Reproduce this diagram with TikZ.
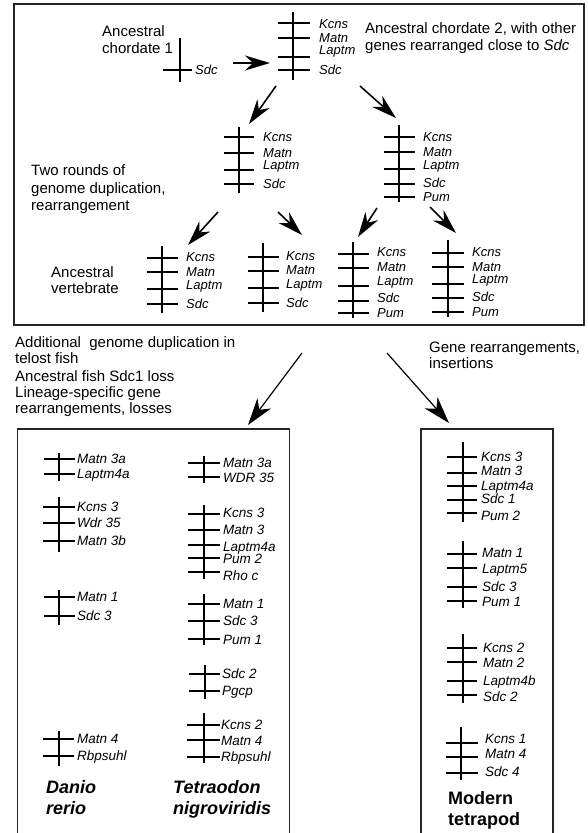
\documentclass[tikz,border=0pt]{standalone}
\usepackage{fontspec}
\setmainfont{Liberation Sans}
\usetikzlibrary{arrows.meta}
\tikzset{
 chr/.style={line width=2pt, line cap=butt},
 gene/.style={anchor=west, inner sep=0pt, font=\fontsize{13}{13}\selectfont\itshape, text height=9.3pt, text depth=0pt},
 geneB/.style={anchor=west, inner sep=0pt, font=\fontsize{13.5}{13.5}\selectfont\itshape, text height=9.7pt, text depth=0pt},
 lbl/.style={anchor=west, inner sep=0pt, font=\fontsize{15}{15}\selectfont, text height=10.7pt, text depth=0pt},
 sp/.style={anchor=west, inner sep=0pt, font=\fontsize{18}{18}\selectfont\bfseries, text height=12.9pt, text depth=0pt},
 spi/.style={sp, font=\fontsize{18}{18}\selectfont\bfseries\itshape},
 panel/.style={line width=1.8pt, draw=black!85},
 arr/.style={line width=1.6pt, -{Stealth[length=25pt,width=15pt,inset=8pt]}},
 bigarr/.style={line width=1.2pt, -{Stealth[length=27pt,width=17pt,inset=8pt]}},
}
% #1 name, #2 label style, #3 x of axis, #4 top, #5 bottom, #6 tick left, #7 tick right, #8 label x, #9 list tick-y/label-y/text
\newcommand\chrom[9]{%
 \draw[chr] (#3,#4) -- (#3,#5);
 \foreach \ty/\ly/\txt [count=\i] in {#9} {
   \draw[chr] (#6,\ty) -- (#7,\ty);
   \node[#2] (#1-\i) at (#8,\ly) {\txt};
 }%
}
\begin{document}
\begin{tikzpicture}[x=1pt,y=-1pt]
\useasboundingbox (0,0) rectangle (587,833);

% panels
\draw[panel] (14,4) rectangle (584,325);
\draw[panel] (17.5,836) -- (17.5,429) -- (289.5,429) -- (289.5,836);
\draw[panel] (421,836) -- (421,429) -- (553,429) -- (553,836);

% top panel texts
\node[lbl] (t1a) at (102,31) {Ancestral};
\node[lbl] (t1b) at (102,48) {chordate 1};
\node[lbl] (t2a) at (365,28) {Ancestral chordate 2, with other};
\node[lbl] (t2b) at (365,45) {genes rearranged close to \textit{Sdc}};
\node[lbl] (t3a) at (31,170) {Two rounds of};
\node[lbl] (t3b) at (31,188) {genome duplication,};
\node[lbl] (t3c) at (31,205) {rearrangement};
\node[lbl] (t4a) at (51,272) {Ancestral};
\node[lbl] (t4b) at (51,288) {vertebrate};

% chromosomes, top panel
\chrom{c1}{gene}{180}{38}{82}{163}{192}{195}{70/70/Sdc}
\chrom{c2}{gene}{293}{12}{80}{278}{310}{319}{23/24/Kcns, 38/38/Matn, 57/50/Laptm, 70/70/Sdc}
\chrom{ml}{gene}{239}{127}{193}{224}{254}{263}{137/137/Kcns, 153/153/Matn, 170/165/Laptm, 184/184/Sdc}
\chrom{mr}{gene}{399}{125}{202}{384}{415}{423}{137/137/Kcns, 152/152/Matn, 169/165/Laptm, 184/183/Sdc, 197/197/Pum}
\chrom{b1}{gene}{162}{246}{313}{147}{178}{186}{258/257/Kcns, 272/272/Matn, 289/285/Laptm, 304/304/Sdc}
\chrom{b2}{gene}{263}{243}{312}{248}{279}{286}{257/256/Kcns, 271/270/Matn, 288/284/Laptm, 303/303/Sdc}
\chrom{b3}{gene}{353}{242}{318}{338}{369}{377}{254/252/Kcns, 268/267/Matn, 286/281/Laptm, 301/298/Sdc, 313/313/Pum}
\chrom{b4}{gene}{448}{240}{317}{432}{464}{472}{253/252/Kcns, 267/267/Matn, 284/279/Laptm, 298/297/Sdc, 312/312/Pum}

% arrows, top panel
\coordinate (h0) at (233,63);  \coordinate (h1) at (270,63);
\coordinate (l0) at (276,86);  \coordinate (l1) at (249,124);
\coordinate (r0) at (360,86);  \coordinate (r1) at (396,118);
\coordinate (a10) at (218,212); \coordinate (a11) at (188,245);
\coordinate (a20) at (278,212); \coordinate (a21) at (302,235);
\coordinate (a30) at (377,208); \coordinate (a31) at (358,237);
\coordinate (a40) at (430,207); \coordinate (a41) at (456,233);
\draw[arr] (h0) -- (h1);
\draw[arr] (l0) -- (l1);
\draw[arr] (r0) -- (r1);
\draw[arr] (a10) -- (a11);
\draw[arr] (a20) -- (a21);
\draw[arr] (a30) -- (a31);
\draw[arr] (a40) -- (a41);

% middle texts
\node[lbl] (m1) at (15,342) {Additional\ \ genome duplication in};
\node[lbl] (m2) at (15,358) {telost fish};
\node[lbl] (m3) at (15,376) {Ancestral fish Sdc1 loss};
\node[lbl] (m4) at (15,392) {Lineage-specific gene};
\node[lbl] (m5) at (15,408) {rearrangements, losses};
\node[lbl] (n1) at (429,347) {Gene rearrangements,};
\node[lbl] (n2) at (429,363) {insertions};

\coordinate (bl0) at (302,353); \coordinate (bl1) at (248,425);
\coordinate (br0) at (387,353); \coordinate (br1) at (449,423);
\draw[bigarr] (bl0) -- (bl1);
\draw[bigarr] (br0) -- (br1);

% Danio rerio
\chrom{d1}{geneB}{59}{453}{481}{44}{75}{77}{459/459/Matn 3a, 474/474/Laptm4a}
\chrom{d2}{geneB}{59}{497}{552}{43}{75}{77}{507/507/Kcns 3, 523/523/Wdr 35, 541/541/Matn 3b}
\chrom{d3}{geneB}{59}{590}{625}{44}{75}{77}{597/597/Matn 1, 616/616/Sdc 3}
\chrom{d4}{geneB}{59}{731}{766}{43}{74}{77}{739/739/Matn 4, 756/756/Rbpsuhl}
\node[spi] (dr1) at (46,787) {Danio};
\node[spi] (dr2) at (46,808) {rerio};

% Tetraodon nigroviridis
\chrom{e1}{geneB}{204}{456}{483}{188}{220}{223}{463/463/Matn 3a, 477/478/WDR 35}
\chrom{e2}{geneB}{204}{505}{579}{188}{220}{223}{514/513/Kcns 3, 530/530/Matn 3, 545/547/Laptm4a, 558/559/Pum 2, 572/576/Rho c}
\chrom{e3}{geneB}{204}{594}{645}{188}{220}{223}{604/604/Matn 1, 621/621/Sdc 3, 639/640/Pum 1}
\chrom{e4}{geneB}{205}{665}{699}{189}{220}{222}{674/674/Sdc 2, 691/691/Pgcp}
\chrom{e5}{geneB}{204}{713}{763}{187}{220}{221}{725/725/Kcns 2, 740/741/Matn 4, 757/757/Rbpsuhl}
\node[spi] (tn1) at (173,787) {Tetraodon};
\node[spi] (tn2) at (173,808) {nigroviridis};

% Modern tetrapod
\chrom{f1}{geneB}{463}{442}{522}{447}{477}{481}{457/457/Kcns 3, 473/471/Matn 3, 486/486/Laptm4a, 500/499/Sdc 1, 513/516/Pum 2}
\chrom{f2}{geneB}{463}{541}{608}{447}{477}{482}{554/553/Matn 1, 568/569/Laptm5, 587/587/Sdc 3, 601/602/Pum 1}
\chrom{f3}{geneB}{463}{634}{703}{447}{477}{483}{648/648/Kcns 2, 662/663/Matn 2, 681/681/Laptm4b, 695/697/Sdc 2}
\chrom{f4}{geneB}{461}{727}{780}{446}{478}{485}{743/739/Kcns 1, 757/754/Matn 4, 773/772/Sdc 4}
\node[sp] (mt1) at (448,798) {Modern};
\node[sp] (mt2) at (448,819) {tetrapod};
\end{tikzpicture}
\end{document}
